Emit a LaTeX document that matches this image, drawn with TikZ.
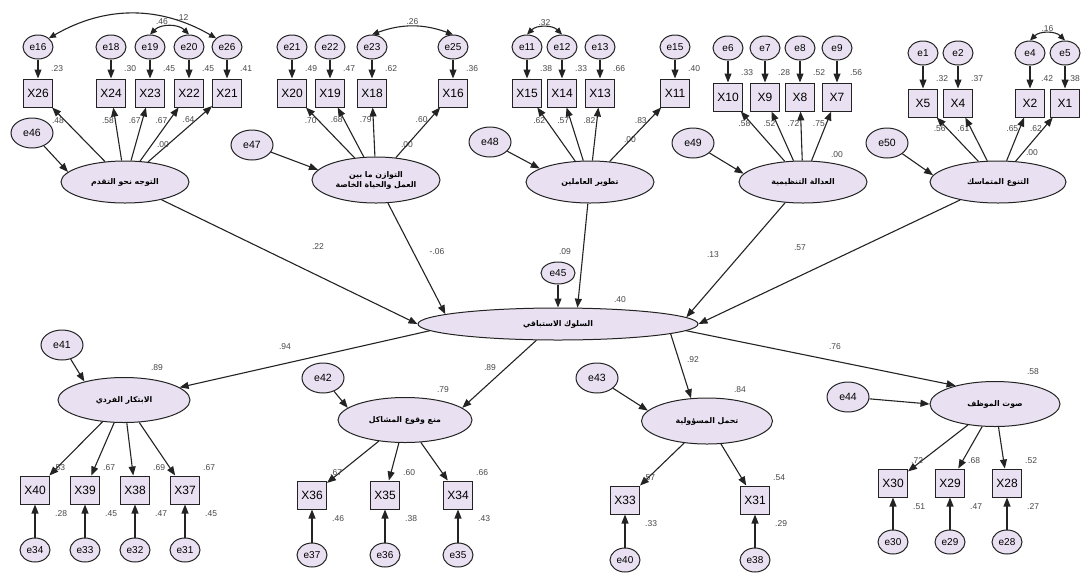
\documentclass[tikz,border=0pt]{standalone}
\usepackage{fontspec}
\setmainfont{Liberation Sans}
\newfontfamily\arabicfont[Script=Arabic]{DejaVu Sans}
\TeXXeTstate=1
\usetikzlibrary{shapes.geometric,arrows.meta,calc}

\definecolor{latfill}{RGB}{233,225,241}
\definecolor{inkline}{RGB}{35,35,35}
\definecolor{coefgray}{RGB}{70,70,70}

\tikzset{
  latent/.style={ellipse, draw=inkline, line width=1pt, fill=latfill,
    minimum width=128pt, minimum height=42pt, inner sep=0pt, align=center,
    font=\arabicfont\bfseries\fontsize{7.8}{10}\selectfont},
  err/.style={ellipse, draw=inkline, line width=1pt, fill=latfill,
    minimum width=30pt, minimum height=24pt, inner sep=0pt,
    font=\fontsize{10}{11}\selectfont},
  disturb/.style={err, minimum width=42pt, minimum height=30pt,
    font=\fontsize{10.5}{11}\selectfont},
  obs/.style={rectangle, draw=inkline, line width=1pt, fill=latfill,
    minimum width=29pt, minimum height=28pt, inner sep=0pt,
    font=\fontsize{12}{13}\selectfont},
  regarrow/.style={draw=inkline, line width=1.1pt, -{Triangle[length=9pt,width=7pt]}},
  cov/.style={draw=inkline, line width=1.1pt,
    {Triangle[length=7pt,width=6pt]}-{Triangle[length=7pt,width=6pt]}},
  coef/.style={font=\fontsize{8.5}{9}\selectfont, text=coefgray, inner sep=1pt},
}

\begin{document}
\begin{tikzpicture}[x=1pt, y=-1pt]
    \useasboundingbox (0,0) rectangle (1081,574);

    % Second-order factor
    \node[latent, minimum width=280pt, minimum height=32pt] (C) at (558,324) {\beginR السلوك الاستباقي\endR};
    \node[err, minimum width=34pt, minimum height=22pt] (e45) at (558,273) {e45};

    % First-order factors, top row
    \node[latent] (F1) at (125,182) {\beginR التوجه نحو التقدم\endR};
    \node[latent, minimum height=46pt] (F2) at (376,180) {\beginR التوازن ما بين\endR\\\beginR العمل والحياة الخاصة\endR};
    \node[latent] (F3) at (590,182) {\beginR تطوير العاملين\endR};
    \node[latent] (F4) at (803,182) {\beginR العدالة التنظيمية\endR};
    \node[latent, minimum width=136pt] (F5) at (998,182) {\beginR التنوع المتماسك\endR};

    % First-order factors, bottom row
    \node[latent, minimum width=132pt, minimum height=45pt] (F6) at (124,400) {\beginR الابتكار الفردي\endR};
    \node[latent, minimum width=134pt, minimum height=45pt] (F7) at (405,420) {\beginR منع وقوع المشاكل\endR};
    \node[latent, minimum width=131pt, minimum height=46pt] (F8) at (707,421) {\beginR تحمل المسؤولية\endR};
    \node[latent, minimum width=130pt, minimum height=45pt] (F9) at (995,404) {\beginR صوت الموظف\endR};

    % Disturbances
    \node[disturb] (e46) at (32,133) {e46};
    \node[disturb] (e47) at (252,145) {e47};
    \node[disturb] (e48) at (490,142) {e48};
    \node[disturb] (e49) at (693,143) {e49};
    \node[disturb] (e50) at (887,143) {e50};
    \node[disturb] (e41) at (62,345) {e41};
    \node[disturb] (e42) at (323,378) {e42};
    \node[disturb] (e43) at (597,378) {e43};
    \node[disturb] (e44) at (848,397) {e44};

    \draw[regarrow] (e46) -- (F1.170);
    \draw[regarrow] (e47) -- (F2.170);
    \draw[regarrow] (e48) -- (F3.165);
    \draw[regarrow] (e49) -- (F4.172);
    \draw[regarrow] (e50) -- (F5.174);
    \draw[regarrow] (e41) -- (F6.155);
    \draw[regarrow] (e42) -- (F7.168);
    \draw[regarrow] (e43) -- (F8.170);
    \draw[regarrow] (e44) -- (F9.west);
    \draw[regarrow] (e45) -- (C.north);

    % Structural paths
    \draw[regarrow] (F1) -- (C.west);
    \draw[regarrow] (F2) -- (C.175);
    \draw[regarrow] (F3) -- (C.40);
    \draw[regarrow] (F4) -- (C.3);
    \draw[regarrow] (F5) -- (C.east);
    \draw[regarrow] (C.183) -- (F6);
    \draw[regarrow] (C.217) -- (F7.12);
    \draw[regarrow] (C.355) -- (F8.125);
    \draw[regarrow] (C.357) -- (F9.155);

    \node[coef] (b1) at (318,247) {.22};
    \node[coef] (b2) at (437,252) {-.06};
    \node[coef] (b3) at (565,252) {.09};
    \node[coef] (b4) at (713,255) {.13};
    \node[coef] (b5) at (800,248) {.57};
    \node[coef] (b6) at (285,347) {.94};
    \node[coef] (b7) at (490,368) {.89};
    \node[coef] (b8) at (693,360) {.92};
    \node[coef] (b9) at (835,347) {.76};
    \node[coef] (rC) at (620,300) {.40};

    % Squared multiple correlations of the factors
    \node[coef] (rF1) at (163,145) {.00};
    \node[coef] (rF2) at (407,145) {.00};
    \node[coef] (rF3) at (630,140) {.00};
    \node[coef] (rF4) at (837,155) {.00};
    \node[coef] (rF5) at (1032,153) {.00};
    \node[coef] (rF6) at (157,368) {.89};
    \node[coef] (rF7) at (443,390) {.79};
    \node[coef] (rF8) at (740,390) {.84};
    \node[coef] (rF9) at (1033,372) {.58};

    % Indicators of F1
    \node[err] (e16) at (38,47) {e16};  \node[obs] (X26) at (38,93) {X26};
    \node[err] (e18) at (111,47) {e18}; \node[obs] (X24) at (111,93) {X24};
    \node[err] (e19) at (150,47) {e19}; \node[obs] (X23) at (150,93) {X23};
    \node[err] (e20) at (189,47) {e20}; \node[obs] (X22) at (189,93) {X22};
    \node[err] (e26) at (227,47) {e26}; \node[obs] (X21) at (227,93) {X21};
    \draw[regarrow] (e16) -- (X26); \draw[regarrow] (F1) -- node[coef, pos=.75, left] {.48} (X26);
    \draw[regarrow] (e18) -- (X24); \draw[regarrow] (F1) -- node[coef, pos=.75, left] {.58} (X24);
    \draw[regarrow] (e19) -- (X23); \draw[regarrow] (F1) -- node[coef, pos=.75, left] {.67} (X23);
    \draw[regarrow] (e20) -- (X22); \draw[regarrow] (F1) -- node[coef, pos=.75, left] {.67} (X22);
    \draw[regarrow] (e26) -- (X21); \draw[regarrow] (F1) -- node[coef, pos=.75, left] {.64} (X21);
    \node[coef, anchor=west] (r26) at ($(X26.north east)+(-3,-10)$) {.23};
    \node[coef, anchor=west] (r24) at ($(X24.north east)+(-3,-10)$) {.30};
    \node[coef, anchor=west] (r23) at ($(X23.north east)+(-3,-10)$) {.45};
    \node[coef, anchor=west] (r22) at ($(X22.north east)+(-3,-10)$) {.45};
    \node[coef, anchor=west] (r21) at ($(X21.north east)+(-3,-10)$) {.41};
    \draw[cov] (e16.north east) to[bend left=30] node[coef, pos=.8, above] {.12} (e26.north west);
    \draw[cov] (e19.north) to[bend left=45] node[coef, midway, above left] {.46} (e20.north);

    % Indicators of F2
    \node[err] (e21) at (292,47) {e21}; \node[obs] (X20) at (292,93) {X20};
    \node[err] (e22) at (330,47) {e22}; \node[obs] (X19) at (330,93) {X19};
    \node[err] (e23) at (372,47) {e23}; \node[obs] (X18) at (372,93) {X18};
    \node[err] (e25) at (453,47) {e25}; \node[obs] (X16) at (453,93) {X16};
    \draw[regarrow] (e21) -- (X20); \draw[regarrow] (F2) -- node[coef, pos=.75, left] {.70} (X20);
    \draw[regarrow] (e22) -- (X19); \draw[regarrow] (F2) -- node[coef, pos=.75, left] {.68} (X19);
    \draw[regarrow] (e23) -- (X18); \draw[regarrow] (F2) -- node[coef, pos=.75, left] {.79} (X18);
    \draw[regarrow] (e25) -- (X16); \draw[regarrow] (F2) -- node[coef, pos=.75, left] {.60} (X16);
    \node[coef, anchor=west] (r20) at ($(X20.north east)+(-3,-10)$) {.49};
    \node[coef, anchor=west] (r19) at ($(X19.north east)+(-3,-10)$) {.47};
    \node[coef, anchor=west] (r18) at ($(X18.north east)+(-3,-10)$) {.62};
    \node[coef, anchor=west] (r16) at ($(X16.north east)+(-3,-10)$) {.36};
    \draw[cov] (e23.north) to[bend left=20] node[coef, midway, above] {.26} (e25.north);

    % Indicators of F3
    \node[err] (e11) at (527,47) {e11}; \node[obs] (X15) at (527,93) {X15};
    \node[err] (e12) at (562,47) {e12}; \node[obs] (X14) at (562,93) {X14};
    \node[err] (e13) at (600,47) {e13}; \node[obs] (X13) at (600,93) {X13};
    \node[err] (e15) at (675,47) {e15}; \node[obs] (X11) at (675,93) {X11};
    \draw[regarrow] (e11) -- (X15); \draw[regarrow] (F3) -- node[coef, pos=.75, left] {.62} (X15);
    \draw[regarrow] (e12) -- (X14); \draw[regarrow] (F3) -- node[coef, pos=.75, left] {.57} (X14);
    \draw[regarrow] (e13) -- (X13); \draw[regarrow] (F3) -- node[coef, pos=.75, left] {.82} (X13);
    \draw[regarrow] (e15) -- (X11); \draw[regarrow] (F3) -- node[coef, pos=.75, left] {.83} (X11);
    \node[coef, anchor=west] (r15) at ($(X15.north east)+(-3,-10)$) {.38};
    \node[coef, anchor=west] (r14) at ($(X14.north east)+(-3,-10)$) {.33};
    \node[coef, anchor=west] (r13) at ($(X13.north east)+(-3,-10)$) {.66};
    \node[coef, anchor=west] (r11) at ($(X11.north east)+(-3,-10)$) {.40};
    \draw[cov] (e11.north) to[bend left=45] node[coef, midway, above] {.32} (e12.north);

    % Indicators of F4
    \node[err] (e6) at (728,48) {e6}; \node[obs] (X10) at (728,97) {X10};
    \node[err] (e7) at (765,48) {e7}; \node[obs] (X9) at (765,97) {X9};
    \node[err] (e8) at (800,48) {e8}; \node[obs] (X8) at (800,97) {X8};
    \node[err] (e9) at (837,48) {e9}; \node[obs] (X7) at (837,97) {X7};
    \draw[regarrow] (e6) -- (X10); \draw[regarrow] (F4) -- node[coef, pos=.75, left] {.58} (X10);
    \draw[regarrow] (e7) -- (X9);  \draw[regarrow] (F4) -- node[coef, pos=.75, left] {.52} (X9);
    \draw[regarrow] (e8) -- (X8);  \draw[regarrow] (F4) -- node[coef, pos=.75, left] {.72} (X8);
    \draw[regarrow] (e9) -- (X7);  \draw[regarrow] (F4) -- node[coef, pos=.75, left] {.75} (X7);
    \node[coef, anchor=west] (r10) at ($(X10.north east)+(-3,-10)$) {.33};
    \node[coef, anchor=west] (r9) at ($(X9.north east)+(-3,-10)$) {.28};
    \node[coef, anchor=west] (r8) at ($(X8.north east)+(-3,-10)$) {.52};
    \node[coef, anchor=west] (r7) at ($(X7.north east)+(-3,-10)$) {.56};

    % Indicators of F5
    \node[err] (e1) at (923,53) {e1}; \node[obs] (X5) at (923,103) {X5};
    \node[err] (e2) at (958,53) {e2}; \node[obs] (X4) at (958,103) {X4};
    \node[err] (e4) at (1030,53) {e4}; \node[obs] (X2) at (1030,103) {X2};
    \node[err] (e5) at (1065,53) {e5}; \node[obs] (X1) at (1065,103) {X1};
    \draw[regarrow] (e1) -- (X5); \draw[regarrow] (F5) -- node[coef, pos=.75, left] {.56} (X5);
    \draw[regarrow] (e2) -- (X4); \draw[regarrow] (F5) -- node[coef, pos=.75, left] {.61} (X4);
    \draw[regarrow] (e4) -- (X2); \draw[regarrow] (F5) -- node[coef, pos=.75, left] {.65} (X2);
    \draw[regarrow] (e5) -- (X1); \draw[regarrow] (F5) -- node[coef, pos=.75, left] {.62} (X1);
    \node[coef, anchor=west] (r5) at ($(X5.north east)+(-3,-10)$) {.32};
    \node[coef, anchor=west] (r4) at ($(X4.north east)+(-3,-10)$) {.37};
    \node[coef, anchor=west] (r2) at ($(X2.north east)+(-5,-10)$) {.42};
    \node[coef, anchor=east] (r1) at ($(X1.north east)+(1,-10)$) {.38};
    \draw[cov] (e4.north) to[bend left=45] node[coef, midway, above] {.16} (e5.north);

    % Indicators of F6
    \node[obs] (X40) at (35,490) {X40};  \node[err] (e34) at (35,550) {e34};
    \node[obs] (X39) at (85,490) {X39};  \node[err] (e33) at (85,550) {e33};
    \node[obs] (X38) at (135,490) {X38}; \node[err] (e32) at (135,550) {e32};
    \node[obs] (X37) at (185,490) {X37}; \node[err] (e31) at (185,550) {e31};
    \draw[regarrow] (F6) -- (X40); \draw[regarrow] (e34) -- (X40);
    \draw[regarrow] (F6) -- (X39); \draw[regarrow] (e33) -- (X39);
    \draw[regarrow] (F6) -- (X38); \draw[regarrow] (e32) -- (X38);
    \draw[regarrow] (F6) -- (X37); \draw[regarrow] (e31) -- (X37);
    \node[coef, anchor=west] (l40) at ($(X40.north east)+(2,-8)$) {.53};
    \node[coef, anchor=west] (l39) at ($(X39.north east)+(2,-8)$) {.67};
    \node[coef, anchor=west] (l38) at ($(X38.north east)+(2,-8)$) {.69};
    \node[coef, anchor=west] (l37) at ($(X37.north east)+(2,-8)$) {.67};
    \node[coef, anchor=west] (r40) at ($(X40.south east)+(4,9)$) {.28};
    \node[coef, anchor=west] (r39) at ($(X39.south east)+(4,9)$) {.45};
    \node[coef, anchor=west] (r38) at ($(X38.south east)+(4,9)$) {.47};
    \node[coef, anchor=west] (r37) at ($(X37.south east)+(4,9)$) {.45};

    % Indicators of F7
    \node[obs] (X36) at (312,495) {X36}; \node[err] (e37) at (312,555) {e37};
    \node[obs] (X35) at (385,495) {X35}; \node[err] (e36) at (385,555) {e36};
    \node[obs] (X34) at (458,495) {X34}; \node[err] (e35) at (458,555) {e35};
    \draw[regarrow] (F7) -- (X36); \draw[regarrow] (e37) -- (X36);
    \draw[regarrow] (F7) -- (X35); \draw[regarrow] (e36) -- (X35);
    \draw[regarrow] (F7) -- (X34); \draw[regarrow] (e35) -- (X34);
    \node[coef, anchor=west] (l36) at ($(X36.north east)+(2,-8)$) {.67};
    \node[coef, anchor=west] (l35) at ($(X35.north east)+(2,-8)$) {.60};
    \node[coef, anchor=west] (l34) at ($(X34.north east)+(2,-8)$) {.66};
    \node[coef, anchor=west] (r36) at ($(X36.south east)+(4,9)$) {.46};
    \node[coef, anchor=west] (r35) at ($(X35.south east)+(4,9)$) {.38};
    \node[coef, anchor=west] (r34) at ($(X34.south east)+(4,9)$) {.43};

    % Indicators of F8
    \node[obs] (X33) at (625,500) {X33}; \node[err] (e40) at (625,560) {e40};
    \node[obs] (X31) at (755,500) {X31}; \node[err] (e38) at (755,560) {e38};
    \draw[regarrow] (F8) -- (X33); \draw[regarrow] (e40) -- (X33);
    \draw[regarrow] (F8) -- (X31); \draw[regarrow] (e38) -- (X31);
    \node[coef, anchor=west] (l33) at ($(X33.north east)+(2,-8)$) {.57};
    \node[coef, anchor=west] (l31) at ($(X31.north east)+(2,-8)$) {.54};
    \node[coef, anchor=west] (r33) at ($(X33.south east)+(4,9)$) {.33};
    \node[coef, anchor=west] (r31) at ($(X31.south east)+(4,9)$) {.29};

    % Indicators of F9
    \node[obs] (X30) at (893,483) {X30};  \node[err] (e30) at (893,542) {e30};
    \node[obs] (X29) at (950,483) {X29};  \node[err] (e29) at (950,542) {e29};
    \node[obs] (X28) at (1007,483) {X28}; \node[err] (e28) at (1007,542) {e28};
    \draw[regarrow] (F9) -- (X30); \draw[regarrow] (e30) -- (X30);
    \draw[regarrow] (F9) -- (X29); \draw[regarrow] (e29) -- (X29);
    \draw[regarrow] (F9) -- (X28); \draw[regarrow] (e28) -- (X28);
    \node[coef, anchor=west] (l30) at ($(X30.north east)+(2,-8)$) {.72};
    \node[coef, anchor=west] (l29) at ($(X29.north east)+(2,-8)$) {.68};
    \node[coef, anchor=west] (l28) at ($(X28.north east)+(2,-8)$) {.52};
    \node[coef, anchor=west] (r30) at ($(X30.south east)+(4,9)$) {.51};
    \node[coef, anchor=west] (r29) at ($(X29.south east)+(4,9)$) {.47};
    \node[coef, anchor=west] (r28) at ($(X28.south east)+(4,9)$) {.27};
\end{tikzpicture}
\end{document}
